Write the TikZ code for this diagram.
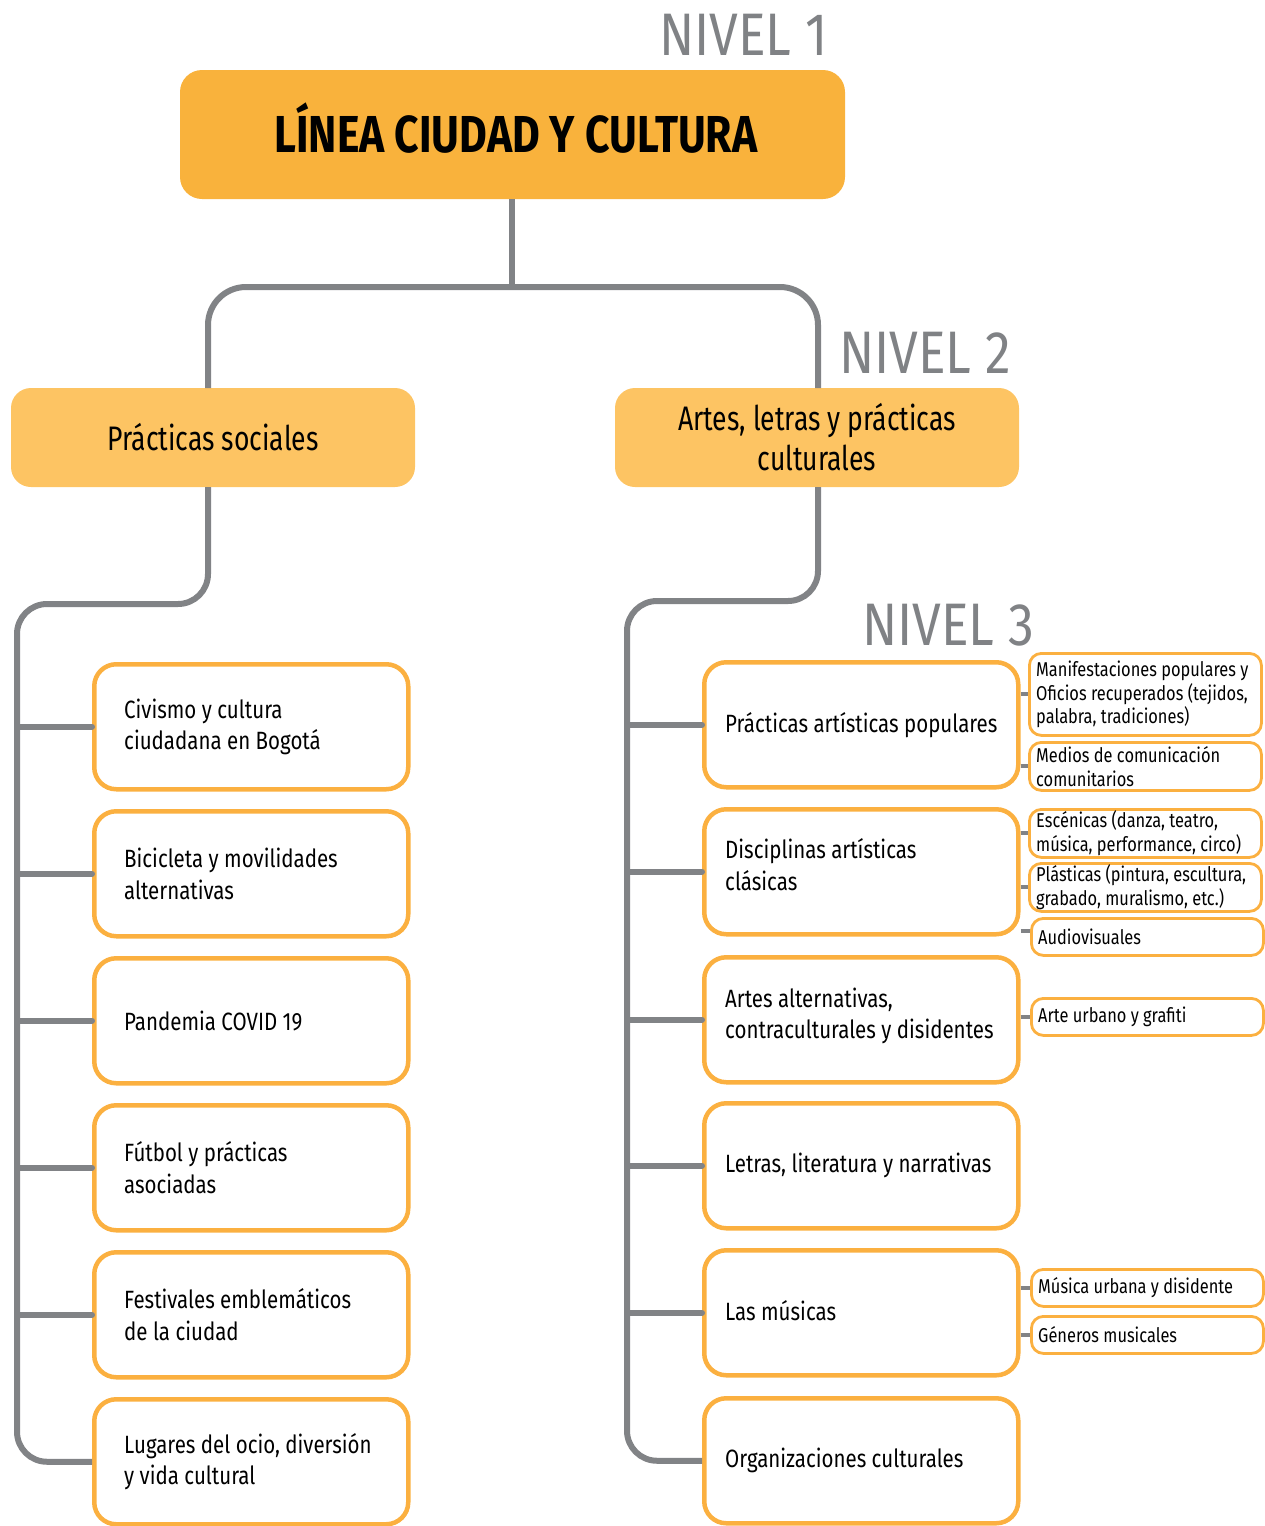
\documentclass[tikz,border=0pt]{standalone}
\usepackage{fontspec}
\setmainfont{Fira Sans}[FakeStretch=0.82]
\newfontfamily\lvfont{Fira Sans}[FakeStretch=0.78]
\newfontfamily\titlefont{Fira Sans}[FakeStretch=0.82]
\newfontfamily\nivelfont{Fira Sans}[FakeStretch=0.86]
\definecolor{topfill}{HTML}{F9B23C}
\definecolor{lvfill}{HTML}{FDC463}
\definecolor{orng}{HTML}{FBB040}
\definecolor{grayline}{HTML}{818386}
\definecolor{graytext}{HTML}{808285}
\tikzset{
  tree/.style={draw=grayline, line width=6pt, rounded corners=30pt},
  branch/.style={draw=grayline, line width=6pt, line cap=round},
  smallconn/.style={draw=grayline, line width=4pt},
  topbox/.style={fill=topfill, rounded corners=22pt, anchor=north west, minimum width=665pt, minimum height=129pt, inner sep=0pt, outer sep=0pt},
  lvtwo/.style={fill=lvfill, rounded corners=20pt, anchor=north west, minimum width=404pt, minimum height=99pt, inner sep=0pt, outer sep=0pt, align=center, font=\lvfont\fontsize{34}{40}\selectfont},
  lvthree/.style={draw=orng, line width=4.5pt, rounded corners=22pt, anchor=north west, minimum width=314pt, minimum height=125pt, inner sep=0pt},
  lvtext/.style={anchor=west, align=left, inner sep=0pt, font=\fontsize{25}{31.5}\selectfont},
  subbox/.style={draw=orng, line width=2.8pt, rounded corners=12pt, anchor=north west, minimum width=232pt, inner sep=0pt},
  subtext/.style={anchor=west, align=left, inner sep=0pt, font=\fontsize{20}{23.5}\selectfont},
  nivel/.style={anchor=base west, inner sep=0pt, text=graytext, font=\nivelfont\fontsize{60}{60}\selectfont},
}
\begin{document}
\begin{tikzpicture}[x=1pt,y=-1pt]
\useasboundingbox (0,0) rectangle (1265,1526);
% Level labels
\node[nivel] (n1) at (659,55) {NIVEL 1};
\node[nivel] (n2) at (839,373) {NIVEL 2};
\node[nivel] (n3) at (862,645) {NIVEL 3};
% Level 1
\node[topbox] (top) at (180,70) {};
\node[anchor=base, inner sep=0pt, font=\titlefont\bfseries\fontsize{52}{52}\selectfont] (toptext) at (516,152) {LÍNEA CIUDAD Y CULTURA};
% Level 2
\node[lvtwo] (ps) at (11,388) {Prácticas sociales};
\node[lvtwo] (al) at (615,388) {Artes, letras y prácticas\\culturales};
\coordinate (split) at (512,287);
\coordinate (psin) at ([xshift=-5pt]ps.north);
\coordinate (psout) at ([xshift=-5pt]ps.south);
\coordinate (alin) at ([xshift=1pt]al.north);
\coordinate (alout) at ([xshift=1pt]al.south);
\draw[tree] (top.south -| split) -- (split);
\draw[tree, rounded corners=38pt] (psin) -- (psin |- split) -- (alin |- split) -- (alin);
% Level 3 left
\node[lvthree] (c1) at (92,662) {};
\node[lvthree] (c2) at (92,809) {};
\node[lvthree] (c3) at (92,956) {};
\node[lvthree] (c4) at (92,1103) {};
\node[lvthree] (c5) at (92,1250) {};
\node[lvthree] (c6) at (92,1397) {};
\node[lvtext] (c1t) at ([xshift=32pt]c1.west) {Civismo y cultura\\ciudadana en Bogotá};
\node[lvtext] (c2t) at ([xshift=32pt]c2.west) {Bicicleta y movilidades\\alternativas};
\node[lvtext] (c3t) at ([xshift=32pt]c3.west) {Pandemia COVID 19};
\node[lvtext] (c4t) at ([xshift=32pt]c4.west) {Fútbol y prácticas\\asociadas};
\node[lvtext] (c5t) at ([xshift=32pt]c5.west) {Festivales emblemáticos\\de la ciudad};
\node[lvtext] (c6t) at ([xshift=32pt]c6.west) {Lugares del ocio, diversión\\y vida cultural};
\coordinate (trunkL) at (17,604);
\draw[tree] (psout) -- (psout |- trunkL) -- (trunkL) -- (trunkL |- c6.west) -- (c6.west);
\foreach \b in {c1,c2,c3,c4,c5}{\draw[branch] (trunkL |- \b.west) -- (\b.west);}
% Level 3 right
\node[lvthree] (r1) at (702,660) {};
\node[lvthree] (r2) at (702,807) {};
\node[lvthree] (r3) at (702,955) {};
\node[lvthree] (r4) at (702,1101) {};
\node[lvthree] (r5) at (702,1248) {};
\node[lvthree] (r6) at (702,1396) {};
\node[lvtext] (r1t) at ([xshift=23pt]r1.west) {Prácticas artísticas populares};
\node[lvtext] (r2t) at ([xshift=23pt,yshift=7pt]r2.west) {Disciplinas artísticas\\clásicas};
\node[lvtext] (r3t) at ([xshift=23pt,yshift=4pt]r3.west) {Artes alternativas,\\contraculturales y disidentes};
\node[lvtext] (r4t) at ([xshift=23pt]r4.west) {Letras, literatura y narrativas};
\node[lvtext] (r5t) at ([xshift=23pt,yshift=2pt]r5.west) {Las músicas};
\node[lvtext] (r6t) at ([xshift=23pt]r6.west) {Organizaciones culturales};
\coordinate (trunkR) at (627,601);
\draw[tree] (alout) -- (alout |- trunkR) -- (trunkR) -- (trunkR |- r6.west) -- (r6.west);
\foreach \b in {r1,r2,r3,r4,r5}{\draw[branch] (trunkR |- \b.west) -- (\b.west);}
% Sub boxes
\node[subbox, minimum height=82pt] (m1) at (1028,652) {};
\node[subbox, minimum height=48pt] (m2) at (1028,741) {};
\node[subbox, minimum height=48pt] (m3) at (1028,808) {};
\node[subbox, minimum height=48pt] (m4) at (1028,862) {};
\node[subbox, minimum height=37pt] (m5) at (1030,917) {};
\node[subbox, minimum height=37pt] (m6) at (1030,997) {};
\node[subbox, minimum height=37pt] (m7) at (1030,1268) {};
\node[subbox, minimum height=37pt] (m8) at (1030,1315) {};
\node[subtext] (m1t) at ([xshift=8pt]m1.west) {Manifestaciones populares y\\Oficios recuperados (tejidos,\\palabra, tradiciones)};
\node[subtext] (m2t) at ([xshift=8pt]m2.west) {Medios de comunicación\\comunitarios};
\node[subtext] (m3t) at ([xshift=8pt]m3.west) {Escénicas (danza, teatro,\\música, performance, circo)};
\node[subtext] (m4t) at ([xshift=8pt]m4.west) {Plásticas (pintura, escultura,\\grabado, muralismo, etc.)};
\node[subtext] (m5t) at ([xshift=8pt]m5.west) {Audiovisuales};
\node[subtext] (m6t) at ([xshift=8pt]m6.west) {Arte urbano y grafiti};
\node[subtext] (m7t) at ([xshift=8pt]m7.west) {Música urbana y disidente};
\node[subtext] (m8t) at ([xshift=8pt]m8.west) {Géneros musicales};
\foreach \p/\m in {r1/m1,r1/m2,r2/m3,r2/m4,r3/m6,r5/m7,r5/m8}{\draw[smallconn] (\p.east |- \m.west) -- (\m.west);}
\coordinate (m5in) at ([yshift=6pt]m5.west);
\draw[smallconn] (r2.east |- m5in) -- (m5in);
\end{tikzpicture}
\end{document}
